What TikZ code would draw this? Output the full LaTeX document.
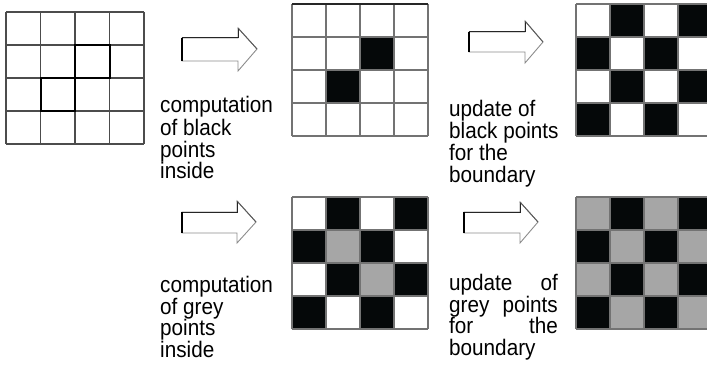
\documentclass[tikz,border=0pt]{standalone}
\usepackage{fontspec}
\newfontfamily\lblfam{Liberation Sans}[FakeStretch=0.92]
\definecolor{blk}{HTML}{050809}
\definecolor{gry}{HTML}{A6A6A6}
\tikzset{
  lbl/.style={anchor=base west, inner sep=0pt, font=\lblfam\fontsize{22.5}{21.7}\selectfont, text=black},
  lblr/.style={lbl, anchor=base east},
  gridline/.style={draw=black!55, line width=1.3pt},
  arrowline/.style={draw=black!45, line width=0.9pt, fill=white, line join=miter},
  arrowdark/.style={draw=black!85, line width=1pt},
  arrowleft/.style={draw=black, line width=1.9pt}
}
% left x, body top, body bottom, head base x, head top, head bottom, tip x, tip y
\newcommand\blkarrow[8]{%
  \draw[arrowline] (#1,#2) -- (#4,#2) -- (#4,#5) -- (#7,#8) -- (#4,#6) -- (#4,#3) -- (#1,#3) -- cycle;
  \draw[arrowdark] (#1,#2) -- (#4,#2) -- (#4,#5);
  \draw[draw=black!65, line width=0.9pt] (#4,#5) -- (#7,#8);
  \draw[arrowleft] (#1,#2) -- (#1,#3);
}
% grid lines at origin x0,y0
\newcommand\gridlines[2]{%
  \foreach \k in {0,...,4}{
    \draw[gridline] ({#1+34*\k},#2) -- ({#1+34*\k},{#2+132});
    \draw[gridline] (#1,{#2+33*\k}) -- ({#1+136},{#2+33*\k});
  }
}
\begin{document}
\begin{tikzpicture}[x=1pt,y=-1pt]
\useasboundingbox (0,0) rectangle (707,369);
\clip (0,0) rectangle (707,369);
\fill[white] (0,0) rectangle (707,369);

% ---- grid 1 (empty, two highlighted cells)
\foreach \xx/\yy in {6/12,40.5/45,75/78,109.5/111,144/144}{
  \draw[draw=black!70, line width=1.4pt] (\xx,12) -- (\xx,144);
  \draw[draw=black!70, line width=1.4pt] (6,\yy) -- (144,\yy);
}
\draw[black, line width=2pt] (75,45) rectangle (109.5,78);
\draw[black, line width=2pt] (40.5,78) rectangle (75,111);

% ---- grid 2 (two black cells)
\fill[blk] (360,37) rectangle ++(34,33);
\fill[blk] (326,70) rectangle ++(34,33);
\gridlines{292}{4}
\draw[black!85, line width=1.5pt] (292,4) -- (428,4);

% ---- grid 3 (black checkerboard)
\foreach \r in {0,...,3}{
  \foreach \c in {0,...,3}{
    \pgfmathtruncatemacro\parity{mod(\r+\c,2)}
    \ifnum\parity=1 \fill[blk] ({576+34*\c},{4+33*\r}) rectangle ++(34,33); \fi
  }
}
\gridlines{576}{4}

% ---- grid 4 (black + two grey)
\foreach \r in {0,...,3}{
  \foreach \c in {0,...,3}{
    \pgfmathtruncatemacro\parity{mod(\r+\c,2)}
    \ifnum\parity=1 \fill[blk] ({292+34*\c},{197+33*\r}) rectangle ++(34,33); \fi
  }
}
\fill[gry] (326,230) rectangle ++(34,33);
\fill[gry] (360,263) rectangle ++(34,33);
\gridlines{292}{197}

% ---- grid 5 (black + grey checkerboard)
\foreach \r in {0,...,3}{
  \foreach \c in {0,...,3}{
    \pgfmathtruncatemacro\parity{mod(\r+\c,2)}
    \ifnum\parity=1 \fill[blk] ({576+34*\c},{197+33*\r}) rectangle ++(34,33);
    \else \fill[gry] ({576+34*\c},{197+33*\r}) rectangle ++(34,33); \fi
  }
}
\gridlines{576}{197}

% ---- arrows
\blkarrow{182}{38}{61}{238}{28}{71}{257}{49}
\blkarrow{469}{32}{52}{525}{21}{63}{543}{42}
\blkarrow{182}{212}{233}{237}{201}{243}{256}{222}
\blkarrow{464}{212}{233}{520}{202}{243}{538}{222}

% ---- labels
\node[lbl] (a1) at (160,113) {computation};
\node[lbl] (a2) at (160,135) {of black};
\node[lbl] (a3) at (160,157) {points};
\node[lbl] (a4) at (160,178) {inside};

\node[lbl] (b1) at (449,117) {update of};
\node[lbl] (b2) at (449,138) {black points};
\node[lbl] (b3) at (449,160) {for the};
\node[lbl] (b4) at (449,182) {boundary};

\node[lbl] (c1) at (160,292) {computation};
\node[lbl] (c2) at (160,314) {of grey};
\node[lbl] (c3) at (160,335) {points};
\node[lbl] (c4) at (160,357) {inside};

\node[lbl] (d1) at (449,290) {update};
\node[lblr] (d1r) at (558,290) {of};
\node[lbl] (d2) at (449,312) {grey};
\node[lblr] (d2r) at (558,312) {points};
\node[lbl] (d3) at (449,333) {for};
\node[lblr] (d3r) at (558,333) {the};
\node[lbl] (d4) at (449,355) {boundary};
\end{tikzpicture}
\end{document}
